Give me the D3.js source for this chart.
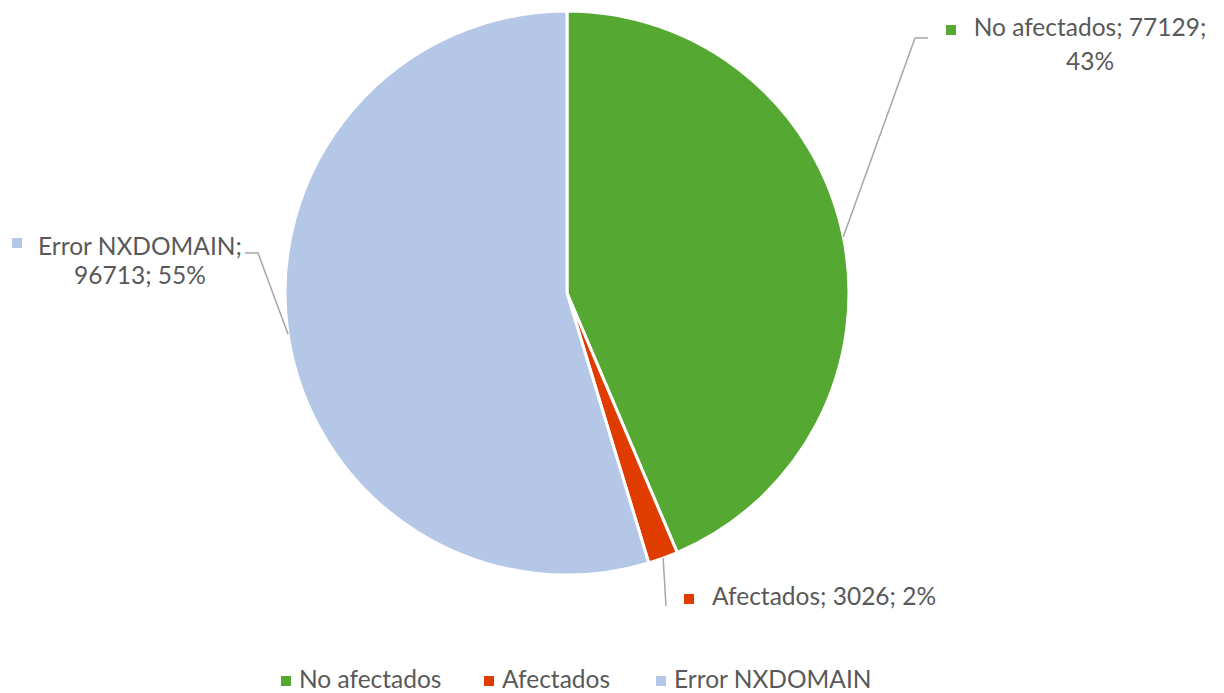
<!DOCTYPE html>
<html>
<head>
<meta charset="utf-8">
<script src="https://cdn.jsdelivr.net/npm/d3@7"></script>
<style>
  body { margin: 0; background: #fff; }
  text { font-family: Lato, "Open Sans", sans-serif; fill: #595959; }
</style>
</head>
<body>
<div id="vis"></div>
<script>
// Chart data
const CATEGORIES = ["No afectados", "Afectados", "Error NXDOMAIN"];
const VALUES = [77129, 3026, 96713];
const PERCENTS = ["43%", "2%", "55%"];
const COLORS = ["#55A933", "#E03C00", "#B4C7E7"];

// Frame
const FRAME_WIDTH = 1224;
const FRAME_HEIGHT = 693;
const CX = 567, CY = 293, RADIUS = 282;

const SVG = d3.select("#vis")
              .append("svg")
                .attr("width", FRAME_WIDTH)
                .attr("height", FRAME_HEIGHT);

const data = CATEGORIES.map((c, i) => ({name: c, value: VALUES[i], pct: PERCENTS[i], color: COLORS[i]}));

const PIE = d3.pie().sort(null).value(d => d.value);
const ARC = d3.arc().innerRadius(0).outerRadius(RADIUS);
const arcs = PIE(data);

const G = SVG.append("g").attr("transform", "translate(" + CX + "," + CY + ")");

G.selectAll("path")
  .data(arcs)
  .enter()
  .append("path")
    .attr("d", ARC)
    .attr("fill", d => d.data.color)
    .attr("stroke", "#fff")
    .attr("stroke-width", 3)
    .attr("stroke-linejoin", "round");

// label layout (page positions of elbows, text baselines and markers)
const LABELS = [
  {elbow: [[915, 38], [928, 38]], x: 1090, ys: [36, 70], anchor: "middle", mx: 946, my: 25},
  {elbow: [[666, 606]], x: 712, ys: [605], anchor: "start", mx: 684, my: 594},
  {elbow: [[258, 253], [245, 253]], x: 140, ys: [255, 284], anchor: "middle", mx: 12, my: 238}
];

arcs.forEach((a, i) => {
  const mid = (a.startAngle + a.endAngle) / 2;
  const sx = CX + RADIUS * Math.sin(mid);
  const sy = CY - RADIUS * Math.cos(mid);
  const L = LABELS[i];
  SVG.append("path")
    .attr("d", d3.line()([[sx, sy]].concat(L.elbow)))
    .attr("fill", "none")
    .attr("stroke", "#A6A6A6")
    .attr("stroke-width", 1.5);

  const d = a.data;
  const full = d.name + "; " + d.value + "; " + d.pct;
  let lines;
  if (L.ys.length === 1) lines = [full];
  else if (i === 0) lines = [d.name + "; " + d.value + ";", d.pct];
  else lines = [d.name + ";", d.value + "; " + d.pct];

  const t = SVG.append("text")
    .attr("text-anchor", L.anchor)
    .attr("font-size", 24.5);
  lines.forEach((ln, j) => {
    t.append("tspan")
      .attr("x", L.x)
      .attr("y", L.ys[j])
      .text(ln);
  });
  SVG.append("rect")
    .attr("x", L.mx)
    .attr("y", L.my)
    .attr("width", 10)
    .attr("height", 10)
    .attr("fill", d.color);
});

// Legend
const LEGEND_X = [281, 484, 656];
const LEGEND = SVG.append("g");
data.forEach((d, i) => {
  LEGEND.append("rect")
    .attr("x", LEGEND_X[i])
    .attr("y", 676)
    .attr("width", 10)
    .attr("height", 10)
    .attr("fill", d.color);
  LEGEND.append("text")
    .attr("x", LEGEND_X[i] + 18)
    .attr("y", 688)
    .attr("font-size", 24.5)
    .text(d.name);
});
</script>
</body>
</html>
